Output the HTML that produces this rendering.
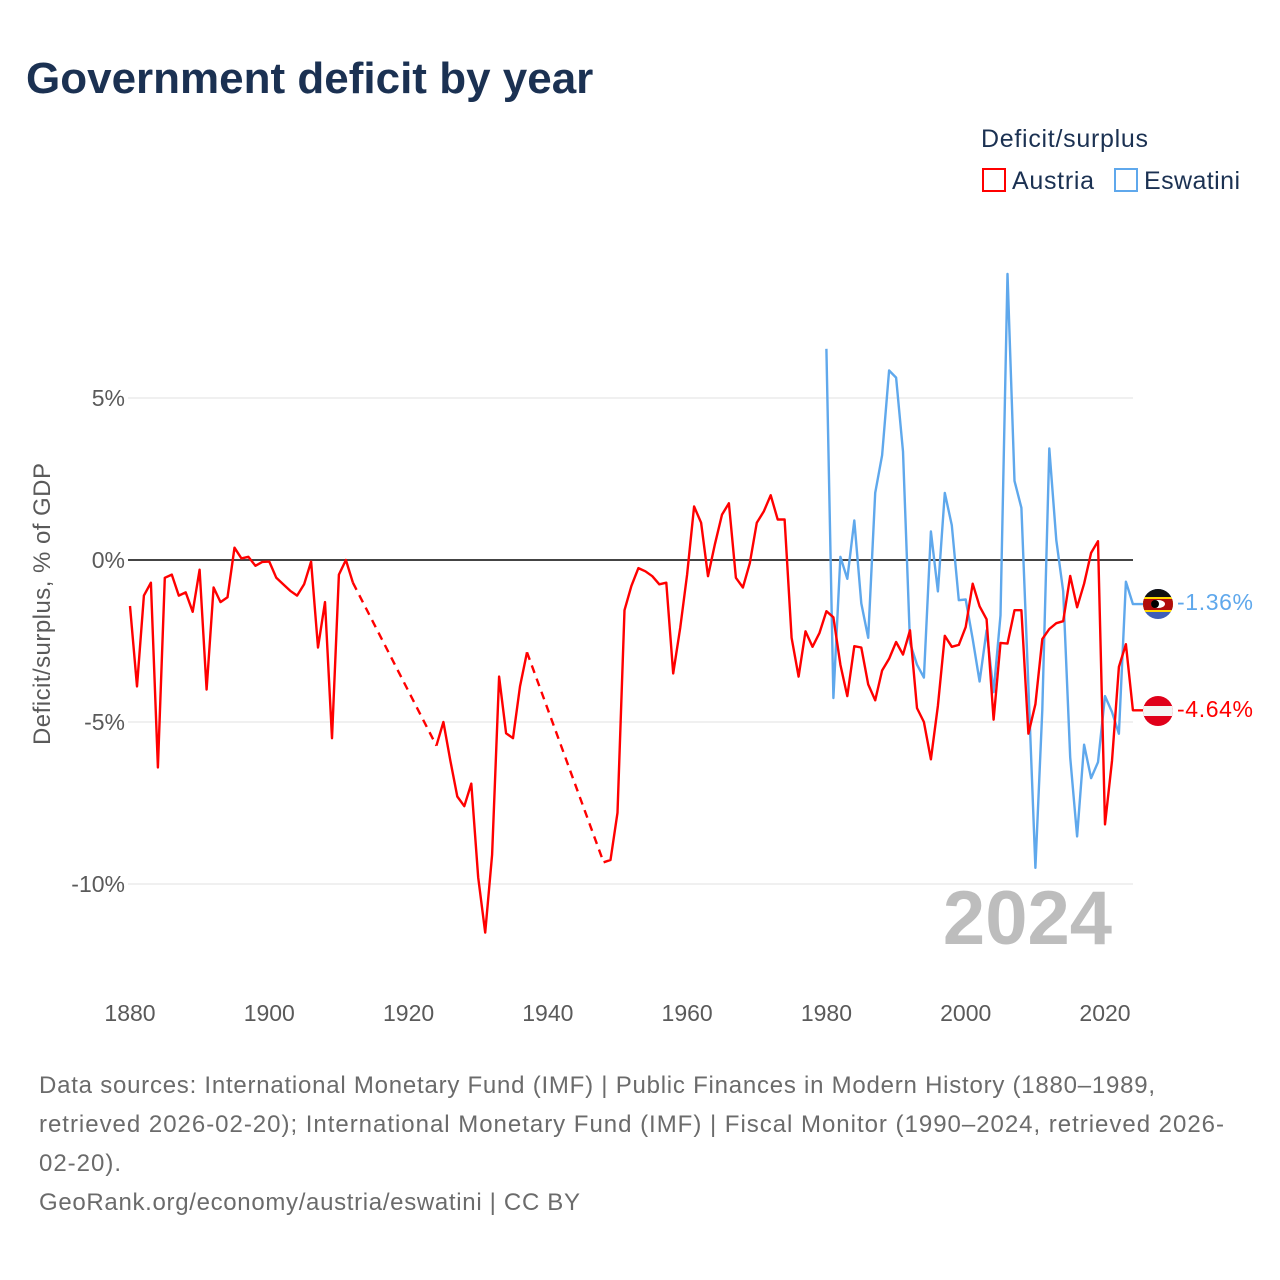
<!DOCTYPE html>
<html><head><meta charset="utf-8">
<style>
body{margin:0;background:#fff;font-family:"Liberation Sans",sans-serif;}
#wrap{position:relative;width:1280px;height:1280px;overflow:hidden;}
</style></head>
<body><div id="wrap">
<svg id="chart" width="1280" height="1280" xmlns="http://www.w3.org/2000/svg">
<text x="26" y="93" font-size="44" font-weight="bold" fill="#1b3152">Government deficit by year</text>
<text x="981" y="147" font-size="25" fill="#1b3152" textLength="167">Deficit/surplus</text>
<g><rect x="983" y="169" width="22" height="22" fill="none" stroke="#ff0000" stroke-width="2"/><text x="1012" y="189" font-size="25" fill="#1b3152" textLength="82">Austria</text></g>
<g><rect x="1115" y="169" width="22" height="22" fill="none" stroke="#5fa8ec" stroke-width="2"/><text x="1144" y="189" font-size="25" fill="#1b3152" textLength="96">Eswatini</text></g>
<g id="grid"></g><g id="yticks"></g><g id="xticks"></g>
<text transform="translate(50,604) rotate(-90)" text-anchor="middle" font-size="24" fill="#5a5a5a" textLength="282">Deficit/surplus, % of GDP</text>
<text x="1112" y="944" text-anchor="end" font-size="76" font-weight="bold" fill="#bdbdbd">2024</text>
<g id="series"></g>
<g>
<clipPath id="c1"><circle cx="1158" cy="604" r="15"/></clipPath>
<g clip-path="url(#c1)"><rect x="1140" y="588" width="36" height="32" fill="#3e5eb9"/><rect x="1140" y="588" width="36" height="9" fill="#111"/><rect x="1140" y="597" width="36" height="15" fill="#ffd900"/><rect x="1140" y="599" width="36" height="11" fill="#b10c0c"/><ellipse cx="1158" cy="604" rx="7" ry="4" fill="#fff"/><ellipse cx="1155" cy="604" rx="4" ry="4" fill="#000"/></g></g>
<g>
<clipPath id="c2"><circle cx="1158" cy="711" r="15"/></clipPath>
<g clip-path="url(#c2)"><rect x="1140" y="694" width="36" height="34" fill="#e0001a"/><rect x="1140" y="706" width="36" height="10" fill="#f4f4f4"/></g></g>
<text x="1177" y="610" font-size="23" fill="#5fa8ec" textLength="76">-1.36%</text>
<text x="1177" y="717" font-size="23" fill="#ff0000" textLength="76">-4.64%</text>
<text font-size="24" fill="#6b6b6b"><tspan x="39" y="1093" textLength="1116">Data sources: International Monetary Fund (IMF) | Public Finances in Modern History (1880–1989,</tspan><tspan x="39" y="1132" textLength="1185">retrieved 2026-02-20); International Monetary Fund (IMF) | Fiscal Monitor (1990–2024, retrieved 2026-</tspan><tspan x="39" y="1171" textLength="82">02-20).</tspan><tspan x="39" y="1210" textLength="541">GeoRank.org/economy/austria/eswatini | CC BY</tspan></text>
</svg>
</div>
<script>
const austriaYears = [1880,1881,1882,1883,1884,1885,1886,1887,1888,1889,1890,1891,1892,1893,1894,1895,1896,1897,1898,1899,1900,1901,1902,1903,1904,1905,1906,1907,1908,1909,1910,1911,1912,
1924,1925,1926,1927,1928,1929,1930,1931,1932,1933,1934,1935,1936,1937,
1948,1949,1950,1951,1952,1953,1954,1955,1956,1957,1958,1959,1960,1961,1962,1963,1964,1965,1966,1967,1968,1969,1970,1971,1972,1973,1974,1975,1976,1977,1978,1979,1980,1981,1982,1983,1984,1985,1986,1987,1988,1989,1990,1991,1992,1993,1994,1995,1996,1997,1998,1999,2000,2001,2002,2003,2004,2005,2006,2007,2008,2009,2010,2011,2012,2013,2014,2015,2016,2017,2018,2019,2020,2021,2022,2023,2024];
const austriaValues = [-1.42,-3.9,-1.1,-0.7,-6.4,-0.55,-0.45,-1.1,-1.0,-1.6,-0.3,-4.0,-0.85,-1.3,-1.15,0.38,0.05,0.1,-0.18,-0.06,-0.05,-0.55,-0.75,-0.95,-1.1,-0.75,-0.05,-2.7,-1.3,-5.5,-0.45,0,-0.7,
-5.73,-5.0,-6.2,-7.3,-7.6,-6.9,-9.8,-11.5,-9.1,-3.6,-5.35,-5.5,-3.9,-2.85,
-9.33,-9.26,-7.8,-1.55,-0.8,-0.25,-0.35,-0.5,-0.75,-0.7,-3.5,-2.1,-0.45,1.65,1.15,-0.5,0.5,1.4,1.75,-0.55,-0.85,-0.1,1.15,1.5,2.0,1.25,1.25,-2.4,-3.6,-2.2,-2.68,-2.25,-1.58,-1.77,-3.23,-4.2,-2.66,-2.7,-3.84,-4.33,-3.41,-3.05,-2.53,-2.92,-2.17,-4.57,-5.0,-6.15,-4.5,-2.34,-2.68,-2.62,-2.07,-0.73,-1.43,-1.83,-4.93,-2.56,-2.58,-1.55,-1.55,-5.36,-4.45,-2.44,-2.13,-1.95,-1.89,-0.49,-1.46,-0.73,0.22,0.58,-8.16,-6.2,-3.3,-2.6,-4.64];
const eswatiniYears = [1980,1981,1982,1983,1984,1985,1986,1987,1988,1989,1990,1991,1992,1993,1994,1995,1996,1997,1998,1999,2000,2001,2002,2003,2004,2005,2006,2007,2008,2009,2010,2011,2012,2013,2014,2015,2016,2017,2018,2019,2020,2021,2022,2023,2024];
const eswatiniValues = [6.52,-4.26,0.1,-0.58,1.22,-1.34,-2.4,2.07,3.23,5.85,5.63,3.35,-2.56,-3.23,-3.63,0.88,-0.97,2.07,1.07,-1.24,-1.22,-2.44,-3.75,-2.17,-4.08,-1.71,8.83,2.44,1.61,-3.9,-9.5,-4.63,3.44,0.61,-0.97,-6.09,-8.53,-5.7,-6.73,-6.24,-4.2,-4.69,-5.36,-0.67,-1.36];
const yTickValues = [5,0,-5,-10];
const yTickLabels = ["5%","0%","-5%","-10%"];
const xTickValues = [1880,1900,1920,1940,1960,1980,2000,2020];

const NS="http://www.w3.org/2000/svg";
const X0=130, PX_YEAR=975/140, Y0=560, PX_PCT=32.4;
function xs(y){return X0+(y-1880)*PX_YEAR;}
function ys(v){return Y0-v*PX_PCT;}
function mk(tag,attrs,parent){const e=document.createElementNS(NS,tag);for(const k in attrs)e.setAttribute(k,attrs[k]);parent.appendChild(e);return e;}

const grid=document.getElementById('grid'), yt=document.getElementById('yticks'), xt=document.getElementById('xticks');
yTickValues.forEach((v,i)=>{
  const l=mk('line',{x1:128,x2:1133,y1:ys(v),y2:ys(v),stroke:v===0?'#444':'#e6e6e6','stroke-width':v===0?2:1.2},grid);
  
  
  const t=mk('text',{x:125,y:ys(v)+8,'text-anchor':'end','font-size':23,fill:'#5a5a5a'},yt);
  t.textContent=yTickLabels[i];
  
  
});
xTickValues.forEach(v=>{
  const t=mk('text',{x:xs(v),y:1021,'text-anchor':'middle','font-size':23,fill:'#5a5a5a'},xt);
  t.textContent=String(v);
  
  
});

const series=document.getElementById('series');
function drawSeries(years,vals,color,name){
  let d='', dash='';
  for(let i=0;i<years.length;i++){
    const p=xs(years[i]).toFixed(1)+','+ys(vals[i]).toFixed(1);
    if(i>0 && years[i]-years[i-1]>1){
      dash+='M'+xs(years[i-1]).toFixed(1)+','+ys(vals[i-1]).toFixed(1)+'L'+p;
      d+='M'+p;
    } else d+=(i===0?'M':'L')+p;
  }
  const lastX=xs(years[years.length-1]), lastY=ys(vals[vals.length-1]);
  d+='L'+(lastX+12).toFixed(1)+','+lastY.toFixed(1);
  const pl=mk('path',{d:d,fill:'none',stroke:color,'stroke-width':2.4,'stroke-linejoin':'round'},series);
  
  
  if(dash){
    const dl=mk('path',{d:dash,fill:'none',stroke:color,'stroke-width':2.4,'stroke-dasharray':'8,6'},series);
    
    
  }
}
drawSeries(eswatiniYears,eswatiniValues,'#5fa8ec','eswatini');
drawSeries(austriaYears,austriaValues,'#ff0000','austria');
</script>
</body></html>
